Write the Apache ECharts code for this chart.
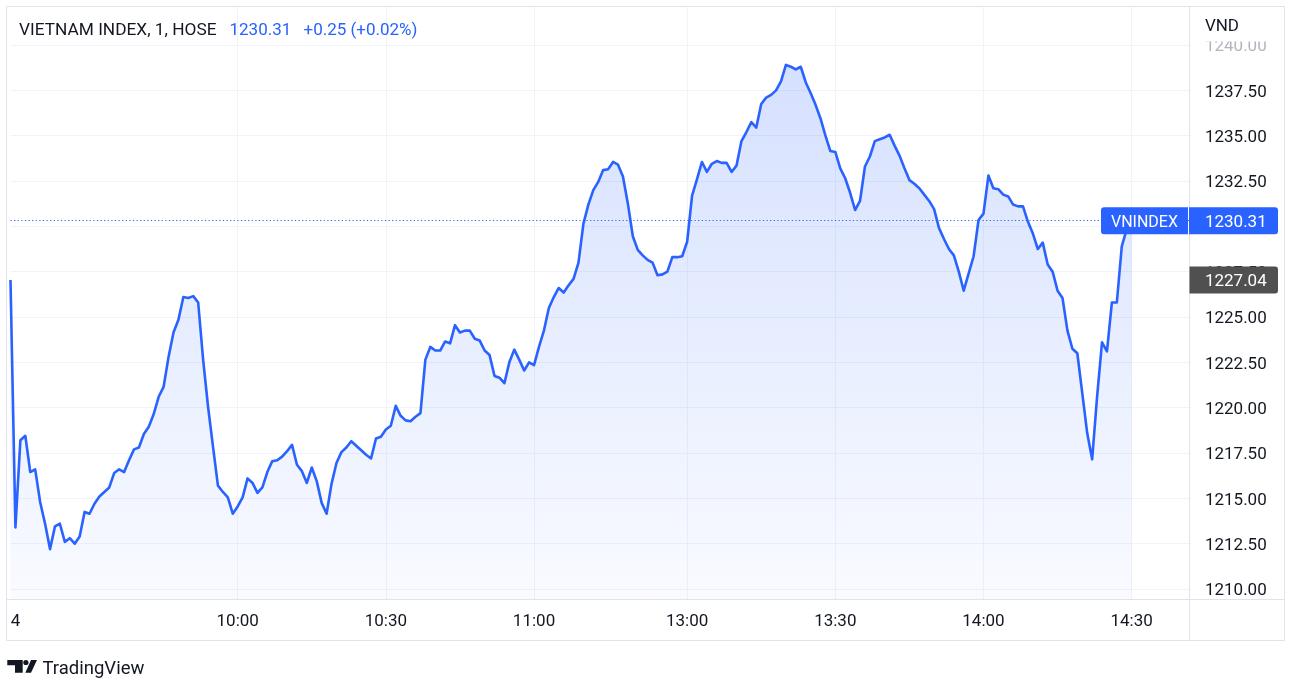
<!DOCTYPE html>
<html>
<head>
<meta charset="utf-8">
<script src="https://cdn.jsdelivr.net/npm/echarts@6/dist/echarts.min.js"></script>
<style>
html,body{margin:0;padding:0;background:#ffffff;}
#chart{width:1300px;height:694px;}
</style>
</head>
<body>
<div id="chart"></div>
<script>
// ---------- DATA ----------
// 1-minute closes, morning session (09:14 .. 11:30)
const morningValues = [
  1227.04,1213.40,1218.20,1218.45,1216.45,1216.60,1214.80,1213.60,1212.20,1213.45,
  1213.60,1212.60,1212.80,1212.50,1212.90,1214.25,1214.15,1214.70,1215.10,1215.35,
  1215.60,1216.40,1216.60,1216.45,1217.10,1217.70,1217.80,1218.55,1218.95,1219.65,
  1220.60,1221.15,1222.80,1224.15,1224.85,1226.10,1226.05,1226.15,1225.80,1222.65,
  1220.05,1217.85,1215.70,1215.35,1215.05,1214.15,1214.55,1215.05,1216.10,1215.85,
  1215.30,1215.60,1216.45,1217.05,1217.10,1217.30,1217.60,1217.95,1216.85,1216.50,
  1215.85,1216.70,1215.95,1214.75,1214.15,1215.80,1216.95,1217.55,1217.80,1218.15,
  1217.90,1217.65,1217.40,1217.20,1218.30,1218.40,1218.80,1219.00,1220.10,1219.55,
  1219.30,1219.25,1219.50,1219.70,1222.65,1223.35,1223.15,1223.15,1223.65,1223.55,
  1224.55,1224.15,1224.25,1224.25,1223.80,1223.70,1223.15,1222.90,1221.75,1221.65,
  1221.35,1222.50,1223.20,1222.65,1222.05,1222.50,1222.35,1223.35,1224.25,1225.50,
  1226.10,1226.60,1226.35,1226.75,1227.10,1228.00,1230.15,1231.20,1232.00,1232.45,
  1233.10,1233.15,1233.55,1233.40,1232.75,1231.25,1229.45,1228.70,1228.40,1228.15,
  1228.00,1227.30,1227.35,1227.50,1228.30,1228.30,1228.35
];
// 1-minute closes, afternoon session (13:00 .. 14:30)
const afternoonValues = [
  1229.15,1231.70,1232.60,1233.55,1233.00,1233.45,1233.60,1233.50,1233.50,1233.00,
  1233.35,1234.70,1235.20,1235.75,1235.45,1236.75,1237.10,1237.25,1237.50,1238.00,
  1238.90,1238.80,1238.65,1238.80,1237.95,1237.35,1236.70,1235.95,1235.00,1234.15,
  1234.10,1233.20,1232.65,1231.85,1230.90,1231.40,1233.30,1233.85,1234.70,1234.80,
  1234.90,1235.05,1234.45,1233.90,1233.20,1232.55,1232.35,1232.10,1231.75,1231.40,
  1230.95,1229.90,1229.30,1228.75,1228.40,1227.50,1226.45,1227.40,1228.35,1230.35,
  1230.70,1232.80,1232.10,1232.05,1231.75,1231.65,1231.20,1231.10,1231.10,1230.25,
  1229.60,1228.75,1229.10,1227.90,1227.50,1226.45,1226.05,1224.25,1223.25,1223.00,
  1220.80,1218.60,1217.15,1220.60,1223.60,1223.10,1225.80,1225.80,1228.90,1229.85,
  1230.31
];
// bar sessions on the time axis (start, end) – the last one runs past the final bar
const sessions = [['09:14','11:30'],['13:00','14:42']];
const timeTickLabels = ['10:00','10:30','11:00','13:00','13:30','14:00','14:30'];
const dayLabel = '4';
const priceTicks = {min:1210, max:1240, step:2.5};
const prevClose = 1227.04;
const lastPrice = 1230.31;
const headerTitle = 'VIETNAM INDEX, 1, HOSE';
const headerLast = '1230.31';
const headerChange = '+0.25 (+0.02%)';
const symbolName = 'VNINDEX';
const currencyName = 'VND';

// ---------- build categories ----------
function toMin(s){const p=s.split(':');return +p[0]*60 + +p[1];}
function toStr(m){const h=Math.floor(m/60),mm=m%60;return (h<10?'0':'')+h+':'+(mm<10?'0':'')+mm;}
const categories = [];
sessions.forEach(function(s){for(let m=toMin(s[0]);m<=toMin(s[1]);m++)categories.push(toStr(m));});
const values = morningValues.concat(afternoonValues);

// ---------- layout ----------
const BLUE = '#2962ff';
const TEXT = '#131722';
const GRIDC = '#f0f3fa';
const BORDER = '#e0e3eb';
const FONT = 'Roboto, "Noto Sans", sans-serif';
const plotLeft = 10.5;
const barStep = 4.939;
const plotWidth = (categories.length - 1) * barStep;
const frame = {left:6.5, top:6.5, right:1284.5, bottom:640.5};
const timeAxisY = 599.5;
const priceAxisX = 1189.5;
const valTop = 45, valBottom = 589;
const pxPerUnit = (valBottom - valTop) / (priceTicks.max - priceTicks.min);
const fillOrigin = priceTicks.min - (timeAxisY - 0.5 - valBottom) / pxPerUnit;

const tickSet = {};
timeTickLabels.forEach(function(t){tickSet[t]=true;});

const chart = echarts.init(document.getElementById('chart'), null, {renderer:'canvas'});

const option = {
  animation:false,
  backgroundColor:'#ffffff',
  textStyle:{fontFamily:FONT},
  grid:[
    {left:plotLeft, top:6, width:plotWidth, height:timeAxisY - 0.5 - 6},
    {left:plotLeft, top:valTop, width:plotWidth, height:valBottom - valTop}
  ],
  xAxis:[
    {
      type:'category', gridIndex:0, data:categories, boundaryGap:false,
      axisLine:{show:false}, axisTick:{show:false},
      axisLabel:{
        interval:function(i,v){return i===0 || tickSet[v]===true;},
        formatter:function(v,i){return i===0 ? '{d|'+dayLabel+'}' : v;},
        color:TEXT, fontSize:17, fontFamily:FONT, margin:14,
        rich:{d:{color:TEXT, fontSize:17, fontFamily:FONT, padding:[0,0,0,10]}}
      },
      splitLine:{show:true, interval:function(i,v){return i!==0 && tickSet[v]===true;}, lineStyle:{color:GRIDC, width:1}}
    },
    {type:'category', gridIndex:1, data:categories, boundaryGap:false, show:false}
  ],
  yAxis:[
    {type:'value', gridIndex:0, show:false, min:0, max:1},
    {
      type:'value', gridIndex:1, position:'right',
      min:priceTicks.min, max:priceTicks.max, interval:priceTicks.step,
      axisLine:{show:false}, axisTick:{show:false},
      axisLabel:{
        margin:14, fontSize:17, fontFamily:FONT,
        formatter:function(v){return ((+v)>=priceTicks.max ? '{f|' : '{n|') + (+v).toFixed(2) + '}';},
        rich:{
          n:{color:TEXT, fontSize:17, fontFamily:FONT, padding:[4,0,0,0]},
          f:{color:'#b2b5be', fontSize:17, fontFamily:FONT, padding:[4,0,0,0]}
        }
      },
      splitLine:{show:true, lineStyle:{color:GRIDC, width:1}}
    }
  ],
  series:[{
    type:'line', xAxisIndex:1, yAxisIndex:1, data:values,
    symbol:'none', showSymbol:false, clip:false, silent:true,
    lineStyle:{color:BLUE, width:2.6, join:'round'},
    areaStyle:{
      origin:fillOrigin,
      color:new echarts.graphic.LinearGradient(0,0,0,1,[
        {offset:0, color:'rgba(41,98,255,0.28)'},
        {offset:1, color:'rgba(41,98,255,0.04)'}
      ])
    },
    markLine:{
      silent:true, symbol:'none', label:{show:false},
      lineStyle:{color:BLUE, type:[1.2,2.4], width:1.2},
      data:[{yAxis:lastPrice}]
    },
    z:3
  }]
};
chart.setOption(option);

// ---------- overlay: frame, scale boxes, header, logo ----------
const yLast = chart.convertToPixel({yAxisIndex:1}, lastPrice);
const yPrev = chart.convertToPixel({yAxisIndex:1}, prevClose);
const labelX = plotLeft + plotWidth + 14;
const boxH = 27;
const tdy = 2;   // baseline nudge for overlay text
const g = [];
g.push({type:'rect', z:100, shape:{x:1190, y:7, width:94, height:34.5}, style:{fill:'#ffffff'}});
g.push({type:'text', z:101, style:{text:currencyName, x:labelX, y:25+tdy, font:'17px '+FONT, fill:TEXT, textVerticalAlign:'middle'}});
g.push({type:'rect', z:100, shape:{x:frame.left, y:frame.top, width:frame.right-frame.left, height:frame.bottom-frame.top}, style:{fill:'none', stroke:BORDER, lineWidth:1}});
g.push({type:'line', z:100, shape:{x1:frame.left, y1:timeAxisY, x2:frame.right, y2:timeAxisY}, style:{stroke:BORDER, lineWidth:1}});
g.push({type:'line', z:100, shape:{x1:priceAxisX, y1:frame.top, x2:priceAxisX, y2:frame.bottom}, style:{stroke:BORDER, lineWidth:1}});
// symbol name box
g.push({type:'rect', z:102, shape:{x:1101, y:yLast-boxH/2, width:87, height:boxH, r:[3,0,0,3]}, style:{fill:BLUE}});
g.push({type:'text', z:103, style:{text:symbolName, x:1144.5, y:yLast+tdy, font:'16px '+FONT, fill:'#ffffff', textAlign:'center', textVerticalAlign:'middle'}});
// last price box
g.push({type:'rect', z:102, shape:{x:1189, y:yLast-boxH/2, width:89, height:boxH, r:[0,3,3,0]}, style:{fill:BLUE}});
g.push({type:'text', z:103, style:{text:lastPrice.toFixed(2), x:labelX, y:yLast+tdy, font:'17px '+FONT, fill:'#ffffff', textVerticalAlign:'middle'}});
// previous close box
g.push({type:'rect', z:102, shape:{x:1189.5, y:yPrev-boxH/2, width:88.5, height:boxH, r:[0,3,3,0]}, style:{fill:'#505050'}});
g.push({type:'text', z:103, style:{text:prevClose.toFixed(2), x:labelX, y:yPrev+tdy, font:'17px '+FONT, fill:'#ffffff', textVerticalAlign:'middle'}});
// header
g.push({type:'text', z:101, style:{text:headerTitle, x:19, y:29+tdy, font:'17.3px '+FONT, fill:TEXT, textVerticalAlign:'middle'}});
g.push({type:'text', z:101, style:{text:headerLast, x:229.5, y:29+tdy, font:'17px '+FONT, fill:BLUE, textVerticalAlign:'middle'}});
g.push({type:'text', z:101, style:{text:headerChange, x:303.5, y:29+tdy, font:'17px '+FONT, fill:BLUE, textVerticalAlign:'middle'}});
// TradingView logo
g.push({type:'polygon', z:101, shape:{points:[[7.3,660],[22.7,660],[22.7,672.7],[15,672.7],[15,665.2],[7.3,665.2]]}, style:{fill:TEXT}});
g.push({type:'circle', z:101, shape:{cx:25.9, cy:662.5, r:2.6}, style:{fill:TEXT}});
g.push({type:'polygon', z:101, shape:{points:[[31,660],[37,660],[31,672.7],[25.3,672.7]]}, style:{fill:TEXT}});
g.push({type:'text', z:101, style:{text:'TradingView', x:42.5, y:667+tdy, font:'18.5px '+FONT, fill:TEXT, textVerticalAlign:'middle'}});

chart.setOption({graphic:{elements:g}});
</script>
</body>
</html>
